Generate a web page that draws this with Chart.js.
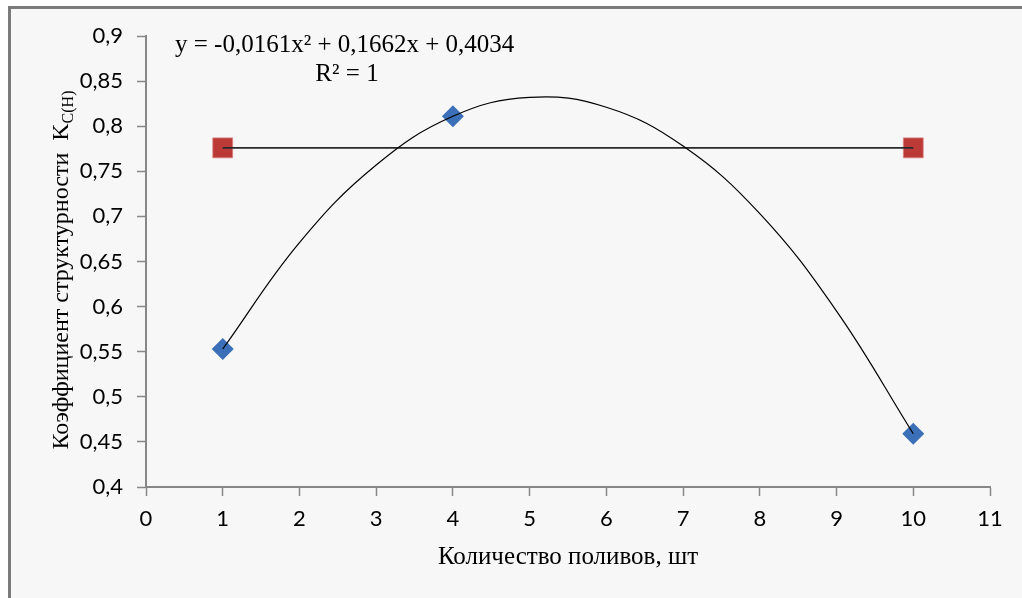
<!DOCTYPE html>
<html>
<head>
<meta charset="utf-8">
<script src="https://cdn.jsdelivr.net/npm/chart.js@4"></script>
<style>
  body { margin: 0; background: #fff; }
  #wrap { position: relative; width: 1022px; height: 598px; overflow: hidden; }
  #frame {
    position: absolute; left: 8px; top: 6px; width: 1100px; height: 700px;
    border-top: 3px solid #7b7b7b; border-left: 3px solid #7b7b7b;
    background: #f7f7f7;
  }
  #chart { position: absolute; left: 0; top: 0; }
</style>
</head>
<body>
<div id="wrap">
  <div id="frame"></div>
  <canvas id="chart" width="1022" height="598"></canvas>
</div>
<script>
// data
const pointX = [1, 4, 10];
const pointY = [0.553, 0.811, 0.459];

const baseX = [1, 10];
const baseY = [0.776, 0.776];

// polynomial trendline, read at each whole x
const trendX = [1, 2, 3, 4, 5, 6, 7, 8, 9, 10];
const trendY = [0.553, 0.671, 0.757, 0.811, 0.832, 0.821, 0.778, 0.703, 0.595, 0.459];

const equationText = 'y = -0,0161x² + 0,1662x + 0,4034';
const r2Text = 'R² = 1';
const xTitle = 'Количество поливов, шт';
const yTitle = 'Коэффициент структурности  K';
const yTitleSub = 'C(H)';

const toXY = (xs, ys) => xs.map((x, i) => ({ x: x, y: ys[i] }));

// texts the axis title option can't do (subscript) + trendline label
const extraText = {
  id: 'extraText',
  afterDraw(chart) {
    const ctx = chart.ctx;
    ctx.save();
    ctx.fillStyle = '#000';
    ctx.textBaseline = 'alphabetic';

    ctx.font = '25px "Liberation Serif"';
    ctx.textAlign = 'left';
    ctx.fillText(equationText, 175, 52);
    ctx.textAlign = 'center';
    ctx.fillText(r2Text, 347, 81);

    // y title, rotated
    ctx.translate(68, 270);
    ctx.rotate(-Math.PI / 2);
    ctx.font = '24px "Liberation Serif"';
    const w1 = ctx.measureText(yTitle).width;
    ctx.font = '16px "Liberation Serif"';
    const w2 = ctx.measureText(yTitleSub).width;
    const start = -(w1 + w2) / 2;
    ctx.textAlign = 'left';
    ctx.font = '24px "Liberation Serif"';
    ctx.fillText(yTitle, start, 0);
    ctx.font = '16px "Liberation Serif"';
    ctx.fillText(yTitleSub, start + w1, 5);
    ctx.restore();
  }
};

const axisColor = '#878787';

new Chart(document.getElementById('chart'), {
  type: 'scatter',
  data: {
    datasets: [
      {
        label: 'trend',
        data: toXY(trendX, trendY),
        showLine: true,
        borderColor: '#000',
        borderWidth: 1.2,
        pointRadius: 0,
        tension: 0.4,
        order: 0
      },
      {
        label: 'base line',
        data: toXY(baseX, baseY),
        showLine: true,
        borderColor: '#2a2a2a',
        borderWidth: 1.6,
        pointRadius: 0,
        order: 0
      },
      {
        label: 'points',
        data: toXY(pointX, pointY),
        pointStyle: 'rectRot',
        pointRadius: 11,
        backgroundColor: '#3b70b8',
        borderColor: '#3b70b8',
        borderWidth: 0,
        order: 1
      },
      {
        label: 'base',
        data: toXY(baseX, baseY),
        pointStyle: 'rect',
        pointRadius: 14.1,
        backgroundColor: '#bb3a38',
        borderColor: '#d88a88',
        borderWidth: 0.8,
        order: 1
      }
    ]
  },
  options: {
    responsive: false,
    animation: false,
    layout: { padding: { top: 36, right: 32, left: 0, bottom: 0 } },
    plugins: {
      legend: { display: false },
      tooltip: { enabled: false }
    },
    scales: {
      x: {
        type: 'linear',
        min: 0,
        max: 11,
        afterFit: (s) => { s.height = 111; },
        ticks: {
          stepSize: 1,
          padding: 10,
          color: '#000',
          font: { family: 'Lato', size: 22 }
        },
        grid: { drawOnChartArea: false, tickLength: 9, color: axisColor, tickWidth: 1.5 },
        border: { color: axisColor, width: 2 },
        title: {
          display: true,
          text: xTitle,
          color: '#000',
          font: { family: 'Liberation Serif', size: 25 },
          padding: { top: 0, bottom: 26 }
        }
      },
      y: {
        min: 0.4,
        max: 0.9,
        afterFit: (s) => { s.width = 146; },
        ticks: {
          stepSize: 0.05,
          padding: 14,
          color: '#000',
          font: { family: 'Lato', size: 22 },
          callback: (v) => String(parseFloat(v.toFixed(2))).replace('.', ',')
        },
        grid: { drawOnChartArea: false, tickLength: 9, color: axisColor, tickWidth: 1.5 },
        border: { color: axisColor, width: 2 }
      }
    }
  },
  plugins: [extraText]
});
</script>
</body>
</html>
